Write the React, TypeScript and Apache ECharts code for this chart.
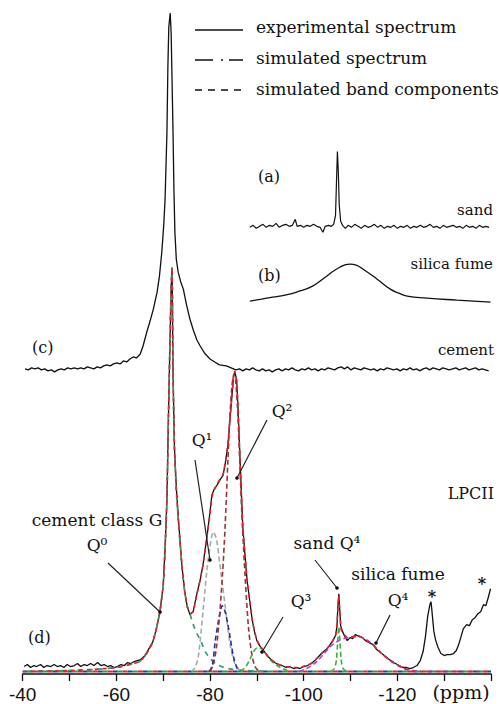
import React, { useEffect, useRef } from 'react';
import * as echarts from 'echarts';

// x axis (ppm) tick labels
const tickLabels = [-40, -60, -80, -100, -120];

// (d) LPCII experimental spectrum [ppm, intensity]
const expLPCII: number[][] = [
  [-40.3, 5], [-41, 7], [-41.7, 4], [-42.4, 6], [-43, 5], [-43.8, 7], [-44.5, 4], [-45.2, 6], [-46, 5], [-46.7, 7],
  [-47.4, 5], [-48.1, 6], [-48.8, 4], [-49.5, 7], [-50.2, 5], [-51, 6], [-51.7, 8], [-52.4, 5], [-53.1, 7], [-53.8, 6],
  [-54.5, 8], [-55.2, 6], [-56, 9], [-56.7, 6], [-57.4, 7], [-58.1, 5], [-58.8, 6], [-59.5, 4], [-60.2, 5], [-61, 7],
  [-61.7, 6], [-62.4, 9], [-63.1, 8], [-63.8, 10], [-64.5, 11], [-65.2, 12], [-65.9, 15], [-66.6, 20], [-67.2, 25],
  [-67.8, 30], [-68.5, 42], [-69.3, 60], [-70, 86], [-70.4, 123], [-70.8, 173], [-71.1, 250], [-71.4, 320], [-71.7, 385],
  [-71.9, 405], [-72.1, 300], [-72.4, 225], [-72.8, 185], [-73.3, 150], [-74, 106], [-74.6, 80], [-75.1, 66], [-75.7, 57],
  [-76.4, 60], [-77.2, 78], [-77.9, 92], [-78.5, 107], [-79.4, 137], [-80, 160], [-80.4, 177], [-81, 184], [-81.5, 187],
  [-82.1, 192], [-82.8, 197], [-83.3, 210], [-83.8, 226], [-84.3, 255], [-84.7, 277], [-85, 295], [-85.3, 301], [-85.7, 292],
  [-86, 262], [-86.4, 214], [-87, 145], [-87.5, 115], [-87.9, 92], [-88.5, 70], [-89, 52], [-89.5, 40], [-90, 31],
  [-90.6, 26], [-91.3, 22], [-92.2, 16], [-93, 12], [-93.8, 9], [-94.6, 7], [-95.4, 6], [-96.2, 4], [-97, 5], [-97.8, 3],
  [-98.6, 4], [-99.2, 3], [-100, 5], [-100.8, 6], [-101.6, 8], [-102.4, 11], [-103.2, 15], [-104, 19], [-104.8, 22],
  [-105.5, 26], [-106.2, 31], [-106.8, 36], [-107.1, 45], [-107.3, 65], [-107.5, 78], [-107.7, 62], [-107.9, 46],
  [-108.3, 40], [-108.8, 35], [-109.3, 31], [-109.9, 34], [-110.5, 33], [-111, 37], [-111.5, 36], [-112, 35], [-112.5, 34],
  [-113.2, 31], [-114, 29], [-114.8, 27], [-115.6, 22], [-116.4, 19], [-117.2, 16], [-118, 13], [-118.8, 10], [-119.6, 8],
  [-120.4, 6], [-121.2, 4], [-122, 4], [-122.7, 3], [-123.4, 4], [-124.2, 6], [-124.9, 11], [-125.5, 20], [-126, 35],
  [-126.5, 56], [-127, 68], [-127.2, 70], [-127.5, 55], [-127.8, 40], [-128.2, 31], [-128.7, 24], [-129.3, 18], [-130, 16],
  [-130.6, 17], [-131.3, 17], [-132, 18], [-132.6, 21], [-133.1, 27], [-133.6, 35], [-134.1, 43], [-134.8, 47], [-135.4, 46],
  [-136, 52], [-136.6, 54], [-137.2, 58], [-137.8, 60], [-138.4, 67], [-138.9, 66], [-139.4, 74], [-139.9, 83],
];

// (d) simulated spectrum
const simLPCII: number[][] = [
  [-40, 0], [-50, 1], [-55, 2], [-60, 4], [-63, 7], [-65, 10], [-66, 15], [-67, 22], [-67.8, 30], [-68.5, 42], [-69.3, 60],
  [-70, 86], [-70.4, 123], [-70.8, 173], [-71.1, 250], [-71.4, 320], [-71.7, 385], [-71.9, 405], [-72.1, 300], [-72.4, 225],
  [-72.8, 182], [-73.3, 148], [-74, 106], [-74.6, 80], [-75.1, 66], [-75.7, 58], [-76.4, 60], [-77.2, 78], [-77.9, 92],
  [-78.5, 107], [-79.4, 137], [-80, 158], [-80.4, 175], [-81, 183], [-81.5, 188], [-82.1, 193], [-82.8, 198], [-83.3, 211],
  [-83.8, 228], [-84.3, 256], [-84.7, 278], [-85, 295], [-85.3, 301], [-85.7, 291], [-86, 262], [-86.4, 212], [-87, 145],
  [-87.5, 115], [-87.9, 92], [-88.5, 70], [-89, 53], [-89.5, 40], [-90, 32], [-90.6, 26], [-91.3, 22], [-92.2, 16], [-93, 12],
  [-94.3, 8], [-96, 5], [-98, 4], [-99.2, 4], [-100.5, 6], [-101.6, 8], [-102.8, 13], [-104, 19], [-105, 23], [-105.7, 27],
  [-106.5, 33], [-107, 40], [-107.3, 62], [-107.5, 76], [-107.7, 60], [-108, 42], [-108.5, 38], [-109.3, 34], [-110.5, 35],
  [-111.4, 36], [-112.5, 34], [-113.5, 31], [-114.8, 27], [-116, 21], [-116.9, 17], [-118, 13], [-119, 10], [-119.9, 7],
  [-121, 4], [-122, 2], [-122.7, 1], [-124, 0], [-140, 0],
];

// simulated band components
const bandQ0: number[][] = [
  [-40, 0], [-50, 1], [-55, 2], [-60, 4], [-63, 7], [-65, 10], [-66, 15], [-67, 22], [-67.8, 30], [-68.5, 42], [-69.3, 60],
  [-70, 86], [-70.4, 123], [-70.8, 173], [-71.1, 250], [-71.4, 320], [-71.7, 385], [-71.9, 405], [-72.1, 300], [-72.4, 225],
  [-72.8, 182], [-73.3, 148], [-74, 106], [-74.6, 80], [-75.1, 66], [-75.7, 58], [-76.5, 46], [-77.2, 38], [-77.9, 32],
  [-79, 20], [-80, 13], [-81.5, 7], [-83, 4], [-85, 2], [-88, 1], [-92, 0],
];
const bandQ1: number[][] = [
  [-76, 0], [-76.8, 4], [-77.5, 15], [-78.5, 60], [-79.3, 100], [-80, 125], [-80.7, 140], [-81.4, 132], [-82.1, 107],
  [-83.2, 67], [-84.3, 27], [-85.3, 8], [-86.5, 0],
];
const bandQ1b: number[][] = [
  [-79.8, 0], [-80.5, 6], [-81.1, 30], [-81.7, 48], [-82.2, 60], [-82.6, 66], [-83.1, 62], [-83.7, 50], [-84.3, 34],
  [-85, 15], [-85.8, 3], [-86.5, 0],
];
const bandQ2: number[][] = [
  [-80, 0], [-80.7, 7], [-81.4, 25], [-82.1, 60], [-82.7, 100], [-83.2, 143], [-83.8, 210], [-84.3, 260], [-84.7, 287],
  [-85.1, 298], [-85.5, 290], [-86, 252], [-86.4, 205], [-86.8, 158], [-87.5, 95], [-88.2, 45], [-88.9, 18], [-89.6, 5],
  [-90.5, 0],
];
const bandQ3: number[][] = [
  [-86.5, 0], [-87.5, 4], [-88.5, 12], [-89.3, 20], [-90.2, 24], [-91, 23], [-92, 17], [-93, 11], [-94.3, 6], [-95.5, 3], [-97, 0],
];
const bandSandQ4: number[][] = [
  [-105.8, 0], [-106.6, 3], [-107, 12], [-107.3, 33], [-107.5, 45], [-107.7, 33], [-108, 12], [-108.4, 3], [-109.2, 0],
];
const bandFumeQ4: number[][] = [
  [-99, 0], [-101, 4], [-102.8, 10], [-104, 16], [-105.7, 25], [-107.5, 31], [-109.5, 34], [-111.5, 35], [-113, 33],
  [-114.8, 27], [-116.9, 17], [-119, 9], [-121, 4], [-123, 1], [-124.5, 0],
];
const baselineZero: number[][] = [[-40, 0], [-140, 0]];

// (c) cement
const expCement: number[][] = [
  [-40.5, 2], [-41.2, 1], [-41.9, 3], [-42.6, 2], [-43.3, 3], [-44, 1], [-44.7, 2], [-45.4, 0], [-46.1, 1], [-46.8, -1],
  [-47.5, 1], [-48.2, 2], [-48.9, 1], [-49.6, 3], [-50.3, 2], [-51, 3], [-51.7, 2], [-52.4, 3], [-53.1, 2], [-53.8, 4],
  [-54.5, 3], [-55.2, 2], [-55.9, 4], [-56.6, 3], [-57.3, 5], [-58, 6], [-58.7, 5], [-59.4, 7], [-60.1, 8], [-60.8, 7],
  [-61.5, 10], [-62.2, 9], [-62.9, 12], [-63.6, 14], [-64.3, 13], [-65.1, 17], [-65.7, 25], [-66.5, 39], [-67.2, 50],
  [-67.9, 62], [-68.7, 79], [-69.2, 95], [-69.7, 119], [-70.1, 145], [-70.4, 172], [-70.8, 239], [-71, 305], [-71.2, 345],
  [-71.5, 359], [-71.7, 339], [-71.9, 290], [-72.1, 239], [-72.3, 180], [-72.5, 139], [-72.8, 112], [-73.2, 99], [-73.7, 90],
  [-74.3, 82], [-75, 66], [-75.7, 52], [-76.5, 40], [-77.2, 31], [-77.9, 25], [-78.8, 18], [-80, 12], [-81, 9], [-82, 6],
  [-83.5, 5], [-84.5, 3], [-85.5, 1], [-86.3, 2], [-87, 0], [-87.7, 2], [-88.4, 1], [-89.1, 3], [-89.8, 1], [-90.5, 0],
  [-91.2, 2], [-91.9, 0], [-92.6, 1], [-93.3, -1], [-94, 1], [-94.7, 2], [-95.4, 0], [-96.1, 2], [-96.8, 1], [-97.5, 3],
  [-98.2, 1], [-98.9, 0], [-99.6, 2], [-100.3, 1], [-101, 3], [-101.7, 1], [-102.4, 2], [-103.1, 0], [-103.8, 2], [-104.5, 1],
  [-105.2, 3], [-105.9, 2], [-106.6, 1], [-107.3, 3], [-108, 4], [-108.7, 2], [-109.4, 4], [-110.1, 1], [-110.8, 3],
  [-111.5, 2], [-112.2, 1], [-112.9, 3], [-113.6, 2], [-114.3, 1], [-115, 2], [-115.7, 0], [-116.4, 2], [-117.1, 1],
  [-117.8, 3], [-118.5, 2], [-119.2, 1], [-119.9, 2], [-120.6, 0], [-121.3, 2], [-122, 1], [-122.7, 3], [-123.4, 1],
  [-124.1, 2], [-124.8, 0], [-125.5, 2], [-126.2, 3], [-126.9, 1], [-127.6, 3], [-128.3, 2], [-129, 1], [-129.7, 3],
  [-130.4, 2], [-131.1, 1], [-131.8, 2], [-132.5, 3], [-133.2, 1], [-133.9, 2], [-134.6, 3], [-135.3, 1], [-136, 2],
  [-136.7, 3], [-137.4, 1], [-138.1, 2], [-138.8, 1], [-139.5, 0],
];

// (a) sand
const expSand: number[][] = [
  [-88.5, 0], [-89.2, 2], [-89.9, -1], [-90.6, 1], [-91.3, 3], [-92, 0], [-92.7, 2], [-93.4, 1], [-94.1, 4], [-94.8, 0],
  [-95.5, 2], [-96.2, 3], [-96.9, 1], [-97.6, 2], [-98.2, 8], [-98.6, 1], [-99.3, 2], [-100, 0], [-100.7, 2], [-101.4, 1],
  [-102.1, 3], [-102.8, 1], [-103.5, 0], [-104.1, -5], [-104.6, 1], [-105.3, 2], [-105.9, 1], [-106.4, 3], [-106.8, 12],
  [-107, 45], [-107.2, 76], [-107.4, 55], [-107.6, 22], [-107.9, 6], [-108.3, 2], [-108.9, -1], [-109.5, 2], [-110.2, 0],
  [-110.9, 3], [-111.6, 1], [-112.3, -1], [-113, 2], [-113.7, 0], [-114.4, 1], [-115.1, 3], [-115.8, 0], [-116.5, 2],
  [-117.2, -1], [-117.9, 1], [-118.6, 0], [-119.3, 2], [-120, -1], [-120.7, 1], [-121.4, 0], [-122.1, 2], [-122.8, -1],
  [-123.5, 1], [-124.2, 0], [-124.9, 2], [-125.6, 0], [-126.3, 1], [-127, 3], [-127.7, 0], [-128.4, 1], [-129.1, -1],
  [-129.8, 2], [-130.5, 0], [-131.2, 1], [-131.9, 2], [-132.6, 0], [-133.3, 1], [-134, -1], [-134.7, 2], [-135.4, 0],
  [-136.1, 1], [-136.8, -1], [-137.5, 2], [-138.2, 0], [-138.9, 1], [-139.6, 0],
];

// (b) silica fume
const expFume: number[][] = [
  [-88.5, 0], [-91, 2], [-93.4, 4], [-96, 6], [-98.5, 9], [-101.9, 15], [-104.9, 25], [-107.7, 34], [-109.9, 37],
  [-111.2, 36], [-112.7, 32], [-115.7, 22], [-118.5, 12], [-120.3, 8], [-122.1, 5], [-126.3, 3], [-132.7, 1], [-139.9, -1],
];

// vertical stacking offsets of the spectra
const OFF_C = 301.5;
const OFF_B = 371.5;
const OFF_A = 445.5;

const SERIF = '"DejaVu Serif", serif';

function shift(arr: number[][], o: number) {
  return arr.map(([x, y]) => [x, y + o]);
}

function lineSeries(data: number[][], color: string, width: number, dash?: any, extra: any = {}) {
  return {
    type: 'line',
    data,
    symbol: 'none',
    showSymbol: false,
    silent: true,
    clip: false,
    lineStyle: { color, width, type: dash || 'solid', ...(extra.lineStyle || {}) },
    z: extra.z ?? 2,
    smooth: extra.smooth ?? false,
  };
}

function txt(x: number, y: number, text: string, size: number, align = 'left', weight = 'normal') {
  return {
    type: 'text',
    x,
    y,
    silent: true,
    style: {
      text,
      fontSize: size,
      fontFamily: SERIF,
      fontWeight: weight,
      fill: '#111',
      align,
      verticalAlign: 'middle',
    },
    z: 10,
  };
}

function arrow(x1: number, y1: number, x2: number, y2: number) {
  return [
    { type: 'line', silent: true, z: 10, shape: { x1, y1, x2, y2 }, style: { stroke: '#222', lineWidth: 1.2 } },
    { type: 'circle', silent: true, z: 10, shape: { cx: x2, cy: y2, r: 1.8 }, style: { fill: '#111' } },
  ];
}

export default function App() {
  const ref = useRef<HTMLDivElement>(null);
  useEffect(() => {
    if (!ref.current) return;
    const chart = echarts.init(ref.current, undefined, { renderer: 'svg' });
    const dash = [5, 3];
    const option: any = {
      animation: false,
      backgroundColor: '#fff',
      grid: { left: 22.7, right: 8, top: 0, bottom: 28 },
      xAxis: {
        type: 'value',
        min: -140,
        max: -40,
        interval: 10,
        inverse: true,
        axisLine: { show: true, onZero: false, lineStyle: { color: '#111', width: 1.5 } },
        axisTick: { show: true, inside: false, length: 7, lineStyle: { color: '#111', width: 1.3 } },
        axisLabel: {
          margin: 11,
          fontSize: 19,
          fontFamily: '"Liberation Sans", Arial, sans-serif',
          color: '#111',
          verticalAlign: 'top',
          formatter: (v: number) => (tickLabels.includes(v) ? String(v) : ''),
        },
        splitLine: { show: false },
      },
      yAxis: { type: 'value', min: -2.5, max: 673.5, show: false, splitLine: { show: false } },
      series: [
        lineSeries(baselineZero, '#1f3f9f', 2, [5, 10], { z: 1, lineStyle: { dashOffset: 0 } }),
        lineSeries(baselineZero, '#e8202a', 2, [5, 10], { z: 1, lineStyle: { dashOffset: 5 } }),
        lineSeries(baselineZero, '#2a9a4a', 2, [5, 10], { z: 1, lineStyle: { dashOffset: 10 } }),
        lineSeries(shift(expFume, OFF_B), '#111', 1.3, 'solid', { smooth: true }),
        lineSeries(shift(expSand, OFF_A), '#111', 1.2),
        lineSeries(shift(expCement, OFF_C), '#111', 1.3),
        lineSeries(expLPCII, '#111', 1.3),
        lineSeries(bandQ0, '#2f9e6e', 1.7, [5, 5], { smooth: 0.2, z: 3, lineStyle: { dashOffset: 5 } }),
        lineSeries(bandQ1, '#a8a8a8', 1.6, dash, { smooth: 0.3, z: 3 }),
        lineSeries(bandQ1b, '#2030a0', 1.6, dash, { smooth: 0.3, z: 3 }),
        lineSeries(bandQ2, '#a0303a', 1.6, dash, { smooth: 0.3, z: 3 }),
        lineSeries(bandQ3, '#3cb043', 1.6, dash, { smooth: 0.3, z: 3 }),
        lineSeries(bandSandQ4, '#3cb043', 1.6, dash, { smooth: 0.2, z: 3 }),
        lineSeries(bandFumeQ4, '#a848c8', 1.6, dash, { smooth: 0.3, z: 3 }),
        lineSeries(simLPCII, '#e8202a', 1.6, [4, 4], { smooth: 0.15, z: 4, lineStyle: { dashOffset: 0 } }),
      ],
      graphic: [
        // legend
        { type: 'line', silent: true, shape: { x1: 195, y1: 30, x2: 243, y2: 30 }, style: { stroke: '#111', lineWidth: 1.5 } },
        { type: 'line', silent: true, shape: { x1: 195, y1: 60, x2: 243, y2: 60 }, style: { stroke: '#111', lineWidth: 1.5, lineDash: [18, 8, 2, 6] } },
        { type: 'line', silent: true, shape: { x1: 195, y1: 90, x2: 243, y2: 90 }, style: { stroke: '#111', lineWidth: 1.5, lineDash: [7, 6] } },
        txt(256, 27, 'experimental spectrum', 17),
        txt(256, 58, 'simulated spectrum', 17),
        txt(256, 89, 'simulated band components', 17),
        // spectrum labels
        txt(258, 176, '(a)', 16),
        txt(493, 210, 'sand', 15, 'right'),
        txt(258, 275, '(b)', 16),
        txt(493, 264, 'silica fume', 15, 'right'),
        txt(32, 347, '(c)', 16),
        txt(494, 350, 'cement', 15, 'right'),
        txt(494, 493, 'LPCII', 16, 'right'),
        txt(28, 637, '(d)', 16),
        // annotations
        txt(97, 520, 'cement class G', 17, 'center'),
        txt(97, 545, 'Q⁰', 17, 'center'),
        txt(202, 440, 'Q¹', 17, 'center'),
        txt(282, 411, 'Q²', 17, 'center'),
        txt(301, 601, 'Q³', 17, 'center'),
        txt(327, 543, 'sand Q⁴', 17, 'center'),
        txt(398, 574, 'silica fume', 17, 'center'),
        txt(398, 600, 'Q⁴', 17, 'center'),
        txt(432, 596, '*', 16, 'center', 'bold'),
        txt(482, 583, '*', 16, 'center', 'bold'),
        ...arrow(108, 563, 160, 612),
        ...arrow(195, 460, 210, 560),
        ...arrow(267, 420, 237, 478),
        ...arrow(283, 617, 262, 652),
        ...arrow(315, 560, 337, 588),
        ...arrow(390, 615, 376, 643),
        txt(461, 692, '(ppm)', 19, 'center'),
      ],
    };
    chart.setOption(option);
    return () => chart.dispose();
  }, []);
  return (
    <div
      ref={ref}
      style={{ position: 'fixed', left: 0, top: 0, width: 499, height: 704, background: '#fff' }}
    />
  );
}
